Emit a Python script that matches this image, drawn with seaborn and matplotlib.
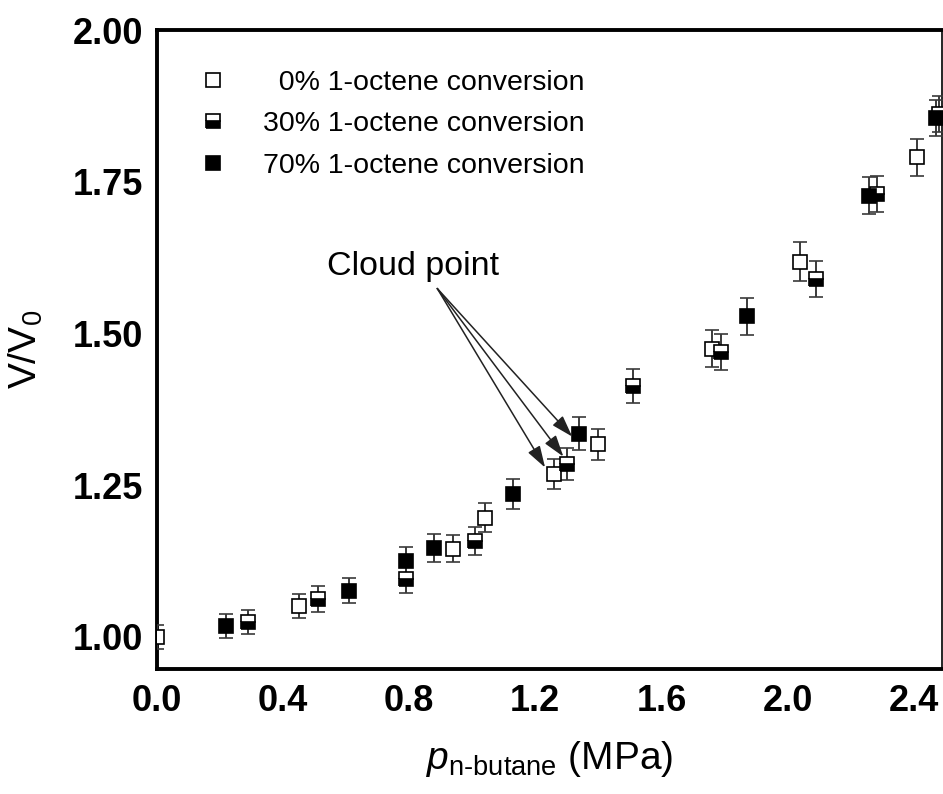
import seaborn as sns
import matplotlib.pyplot as plt
from matplotlib.lines import Line2D

# --- data ---
p0 = [0.00, 0.45, 0.94, 1.04, 1.26, 1.40, 1.76, 2.04, 2.41]
v0 = [1.000, 1.051, 1.145, 1.196, 1.268, 1.317, 1.475, 1.618, 1.790]
e0 = [0.020, 0.020, 0.022, 0.024, 0.025, 0.026, 0.030, 0.032, 0.030]

p30 = [0.29, 0.51, 0.79, 1.01, 1.30, 1.51, 1.79, 2.09, 2.285, 2.48]
v30 = [1.025, 1.062, 1.095, 1.158, 1.285, 1.413, 1.469, 1.590, 1.730, 1.862]
e30 = [0.020, 0.021, 0.022, 0.023, 0.026, 0.028, 0.030, 0.030, 0.030, 0.030]

p70 = [0.22, 0.61, 0.79, 0.88, 1.13, 1.34, 1.87, 2.26, 2.47]
v70 = [1.018, 1.076, 1.125, 1.146, 1.235, 1.335, 1.528, 1.727, 1.855]
e70 = [0.020, 0.021, 0.023, 0.023, 0.025, 0.027, 0.030, 0.030, 0.030]

labels = ["  0% 1-octene conversion", "30% 1-octene conversion", "70% 1-octene conversion"]
xticks = [0.0, 0.4, 0.8, 1.2, 1.6, 2.0, 2.4]
yticks = [1.00, 1.25, 1.50, 1.75, 2.00]

# cloud point arrows: text anchor -> tips
arrow_start = (0.889, 1.574)
arrow_tips = [(1.231, 1.279), (1.289, 1.297), (1.317, 1.330)]

sns.set_theme(style="white")
plt.rcParams['font.family'] = ['Liberation Sans', 'DejaVu Sans']
plt.rcParams['text.color'] = 'black'
plt.rcParams['mathtext.fontset'] = 'custom'
plt.rcParams['mathtext.rm'] = 'Liberation Sans'
plt.rcParams['mathtext.it'] = 'Liberation Sans:italic'

fig = plt.figure(figsize=(9.43, 7.94), dpi=100)
ax = fig.add_axes([157 / 943, 125 / 794, 785 / 943, 639 / 794])

styles = [
    dict(mfc='white', mec='black', fillstyle='full'),
    dict(mfc='black', mfcalt='white', mec='black', fillstyle='bottom'),
    dict(mfc='black', mec='black', fillstyle='full'),
]
series = [(p0, v0, e0), (p30, v30, e30), (p70, v70, e70)]

for (x, y, e), st in zip(series, styles):
    ax.errorbar(x, y, yerr=e, fmt='s', ms=9.5, mew=1.2, ecolor='#3a3a3a',
                elinewidth=1.4, capsize=5, capthick=1.4, zorder=3, **st)

for tip in arrow_tips:
    ax.annotate("", xy=tip, xytext=arrow_start,
                arrowprops=dict(arrowstyle='-|>,head_length=1.1,head_width=0.35',
                                color='#222222', lw=1.1, shrinkA=0, shrinkB=0),
                zorder=4)
ax.text(0.813, 1.610, "Cloud point", fontsize=24.5, ha='center', va='center', color='black')

ax.set_xlim(0, 2.49)
ax.set_ylim(0.947, 2.0)
ax.set_xticks(xticks)
ax.set_yticks(yticks)
ax.set_xticklabels([f"{t:.1f}" for t in xticks], fontsize=26, fontweight='bold')
ax.set_yticklabels([f"{t:.2f}" for t in yticks], fontsize=26, fontweight='bold')
ax.tick_params(axis='both', length=0, colors='black')
ax.tick_params(axis='x', pad=11)
ax.tick_params(axis='y', pad=10)

ax.set_xlabel("$\\mathit{p}_{\\mathrm{n\\text{-}butane}}$ (MPa)", fontsize=28, labelpad=14, color='black')
ax.set_ylabel("V/V$_{\\mathrm{0}}$", fontsize=28, labelpad=20, color='black')

for side in ['left', 'bottom', 'top']:
    ax.spines[side].set_linewidth(2.8)
    ax.spines[side].set_color('black')
ax.spines['right'].set_linewidth(1.2)
ax.spines['right'].set_color('black')

handles = [Line2D([], [], ls='none', marker='s', ms=9.5, mew=1.2, **st) for st in styles]
leg = ax.legend(handles, labels, loc='upper left', bbox_to_anchor=(0.024, 0.978),
                frameon=False, fontsize=20.5, handlelength=0.8, handletextpad=1.35,
                labelspacing=0.55)
for t in leg.get_texts():
    t.set_color('black')

fig.savefig("out.png", dpi=100)
